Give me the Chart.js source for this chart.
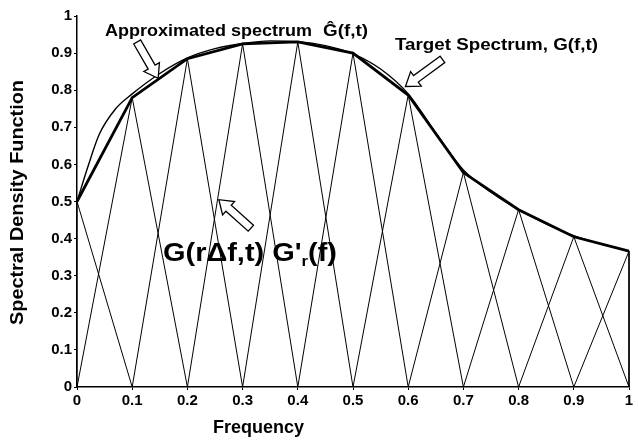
<!DOCTYPE html>
<html>
<head>
<meta charset="utf-8">
<script src="https://cdn.jsdelivr.net/npm/chart.js@4/dist/chart.umd.min.js"></script>
<style>
  body { margin: 0; background: #fff; }
  canvas { display: block; }
</style>
</head>
<body>
<canvas id="chart" width="638" height="441"></canvas>
<script>
// node frequencies (r * delta f) and approximated spectrum values at the nodes
const nodeFreq = [0, 0.1, 0.2, 0.3, 0.4, 0.5, 0.6, 0.7, 0.8, 0.9, 1.0];
const approxG = [0.5, 0.78, 0.885, 0.925, 0.93, 0.9, 0.787, 0.578, 0.478, 0.405, 0.366];

// target spectrum
const targetFreq = [0, 0.02, 0.04, 0.07, 0.1, 0.15, 0.2, 0.25, 0.3, 0.35, 0.4, 0.45, 0.5, 0.55, 0.6, 0.65, 0.7, 0.75, 0.8, 0.85, 0.9, 0.95, 1.0];
const targetG = [0.5, 0.595, 0.68, 0.75, 0.79, 0.845, 0.887, 0.912, 0.926, 0.933, 0.931, 0.92, 0.898, 0.857, 0.79, 0.685, 0.585, 0.525, 0.478, 0.44, 0.408, 0.385, 0.366];

const xTickLabels = ['0', '0.1', '0.2', '0.3', '0.4', '0.5', '0.6', '0.7', '0.8', '0.9', '1'];
const yTickLabels = ['0', '0.1', '0.2', '0.3', '0.4', '0.5', '0.6', '0.7', '0.8', '0.9', '1'];

const FONT = '"Liberation Sans", Arial, Helvetica, sans-serif';
const df = 0.1;

// one triangle basis function per node, clipped to [0, 1]
function triangleData(r) {
  const c = nodeFreq[r];
  return [
    { x: Math.max(0, c - df), y: 0 },
    { x: c, y: approxG[r] },
    { x: Math.min(1, c + df), y: 0 }
  ];
}

const datasets = [];
for (let r = 0; r < nodeFreq.length; r++) {
  datasets.push({
    data: triangleData(r),
    borderColor: '#000',
    borderWidth: 1,
    pointRadius: 0,
    tension: 0,
    clip: false
  });
}
datasets.push({
  data: targetFreq.map((f, i) => ({ x: f, y: targetG[i] })),
  borderColor: '#000',
  borderWidth: 1.4,
  pointRadius: 0,
  cubicInterpolationMode: 'monotone',
  clip: false
});
datasets.push({
  data: nodeFreq.map((f, i) => ({ x: f, y: approxG[i] })),
  borderColor: '#000',
  borderWidth: 2.8,
  pointRadius: 0,
  tension: 0,
  clip: false
});

function hollowArrow(ctx, x0, y0, x1, y1) {
  const dx = x1 - x0, dy = y1 - y0;
  const len = Math.hypot(dx, dy);
  const ux = dx / len, uy = dy / len;
  const nx = -uy, ny = ux;
  const sw = 4, hw = 9, hl = 13;
  const bx = x1 - ux * hl, by = y1 - uy * hl;
  ctx.beginPath();
  ctx.moveTo(x0 + nx * sw, y0 + ny * sw);
  ctx.lineTo(bx + nx * sw, by + ny * sw);
  ctx.lineTo(bx + nx * hw, by + ny * hw);
  ctx.lineTo(x1, y1);
  ctx.lineTo(bx - nx * hw, by - ny * hw);
  ctx.lineTo(bx - nx * sw, by - ny * sw);
  ctx.lineTo(x0 - nx * sw, y0 - ny * sw);
  ctx.closePath();
  ctx.fillStyle = '#fff';
  ctx.fill();
  ctx.lineWidth = 1.3;
  ctx.strokeStyle = '#000';
  ctx.stroke();
}

// draw text stretched horizontally to a given width
function fitText(ctx, text, x, y, width) {
  const w = ctx.measureText(text).width;
  ctx.save();
  ctx.translate(x, y);
  ctx.scale(width / w, 1);
  ctx.fillText(text, 0, 0);
  ctx.restore();
}

const annotations = {
  id: 'annotations',
  afterDatasetsDraw(chart) {
    const ctx = chart.ctx;
    const xs = chart.scales.x, ys = chart.scales.y;
    const px = v => xs.getPixelForValue(v);
    const py = v => ys.getPixelForValue(v);
    ctx.save();
    hollowArrow(ctx, px(0.109), py(0.93), px(0.147), py(0.832));
    hollowArrow(ctx, px(0.662), py(0.883), px(0.595), py(0.81));
    hollowArrow(ctx, px(0.315), py(0.428), px(0.257), py(0.505));

    ctx.fillStyle = '#000';
    ctx.textBaseline = 'alphabetic';
    ctx.textAlign = 'left';
    ctx.font = 'bold 17px ' + FONT;
    fitText(ctx, 'Approximated spectrum', 105, 36, 207);
    fitText(ctx, '\u011C(f,t)', 323, 36, 45);
    fitText(ctx, 'Target Spectrum, G(f,t)', 395, 50, 203);

    // G(r delta f,t) G'_r(f), stretched as a whole
    ctx.save();
    ctx.translate(163, 261);
    ctx.font = 'bold 26px ' + FONT;
    const t1 = 'G(r\u0394f,t) G\'';
    const w1 = ctx.measureText(t1).width;
    const w3 = ctx.measureText('(f)').width;
    ctx.font = 'bold 15px ' + FONT;
    const w2 = ctx.measureText('r').width;
    ctx.scale(174 / (w1 + w2 + w3), 1);
    ctx.font = 'bold 26px ' + FONT;
    ctx.fillText(t1, 0, 0);
    ctx.fillText('(f)', w1 + w2, 0);
    ctx.font = 'bold 15px ' + FONT;
    ctx.fillText('r', w1, 5);
    ctx.restore();

    ctx.font = 'bold 18px ' + FONT;
    ctx.fillText('Frequency', 213, 433);

    ctx.translate(23, 0);
    ctx.rotate(-Math.PI / 2);
    ctx.font = 'bold 18px ' + FONT;
    fitText(ctx, 'Spectral Density Function', -325, 0, 245);
    ctx.restore();
  }
};

new Chart(document.getElementById('chart'), {
  type: 'line',
  data: { datasets },
  options: {
    responsive: false,
    animation: false,
    layout: { padding: { left: 0, top: 16, right: 9, bottom: 0 } },
    plugins: { legend: { display: false }, tooltip: { enabled: false } },
    scales: {
      x: {
        type: 'linear',
        min: 0,
        max: 1,
        afterFit: s => { s.height = 54; },
        border: { color: '#000', width: 1.5 },
        grid: { drawOnChartArea: false, tickLength: 3, color: '#000' },
        ticks: {
          stepSize: 0.1,
          color: '#000',
          padding: 2,
          maxRotation: 0,
          font: { family: FONT, size: 15, weight: 'bold' },
          callback: (v, i) => xTickLabels[i]
        }
      },
      y: {
        type: 'linear',
        min: 0,
        max: 1,
        afterFit: s => { s.width = 77; },
        border: { color: '#000', width: 1.5 },
        grid: { drawOnChartArea: false, tickLength: 3, color: '#000' },
        ticks: {
          stepSize: 0.1,
          color: '#000',
          padding: 2,
          font: { family: FONT, size: 15, weight: 'bold' },
          callback: (v, i) => yTickLabels[i]
        }
      }
    }
  },
  plugins: [annotations]
});
</script>
</body>
</html>
